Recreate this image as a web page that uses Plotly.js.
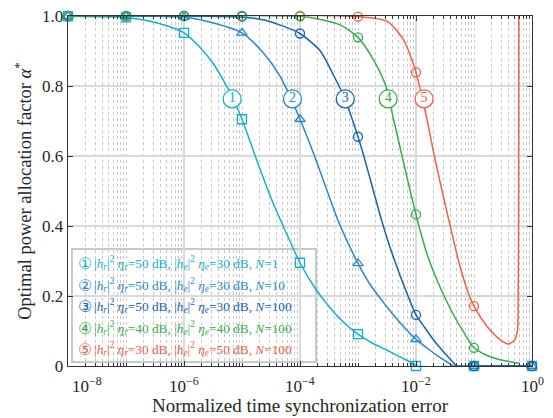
<!DOCTYPE html>
<html>
<head>
<meta charset="utf-8">
<script src="https://cdn.plot.ly/plotly-3.0.1.min.js"></script>
<style>html,body{margin:0;padding:0;background:#fff;}#chart{width:553px;height:418px;}</style>
</head>
<body>
<div id="chart"></div>
<script>
// ---- data (x given as log10 exponents) ----
const markerExp = [-8, -7, -6, -5, -4, -3, -2, -1, 0];

const s1Exp = [-8, -7.5, -7, -6.6, -6.3, -6, -5.75, -5.5, -5.25, -5.15, -5, -4.75, -4.5, -4.25, -4, -3.75, -3.5, -3.25, -3, -2.75, -2.5, -2.25, -2.04, -2, -1, 0];
const s1Val = [0.999, 0.998, 0.996, 0.986, 0.972, 0.952, 0.915, 0.865, 0.795, 0.762, 0.705, 0.59, 0.48, 0.385, 0.295, 0.225, 0.17, 0.125, 0.091, 0.065, 0.045, 0.024, 0.006, 0, 0, 0];
const s1Mk = [0.999, 0.996, 0.952, 0.705, 0.295, 0.091, 0, 0, 0];

const s2Exp = [-8, -6.5, -6, -5.49, -5, -4.63, -4.34, -4.16, -4, -3.75, -3.51, -3.33, -3, -2.8, -2.6, -2.4, -2.2, -2, -1.8, -1.6, -1.45, -1.35, -1, 0];
const s2Val = [1, 0.999, 0.997, 0.98, 0.952, 0.894, 0.827, 0.766, 0.705, 0.6, 0.49, 0.41, 0.293, 0.235, 0.19, 0.148, 0.11, 0.076, 0.05, 0.026, 0.01, 0, 0, 0];
const s2Mk = [1, 0.999, 0.997, 0.952, 0.705, 0.293, 0.076, 0, 0];

const s3Exp = [-8, -5.5, -5, -4.6, -4.34, -4, -3.65, -3.42, -3.23, -3, -2.9, -2.75, -2.6, -2.45, -2.3, -2.15, -2, -1.85, -1.7, -1.55, -1.4, -1.29, -1, 0];
const s3Val = [1, 0.999, 0.997, 0.988, 0.974, 0.95, 0.9, 0.83, 0.765, 0.655, 0.6, 0.51, 0.42, 0.34, 0.27, 0.205, 0.146, 0.11, 0.075, 0.045, 0.018, 0, 0, 0];
const s3Mk = [1, 1, 1, 0.998, 0.95, 0.655, 0.146, 0, 0];

const s4Exp = [-8, -4, -3.65, -3.3, -3, -2.73, -2.52, -2.38, -2.24, -2.1, -2, -1.9, -1.8, -1.65, -1.5, -1.35, -1.2, -1, -0.8, -0.6, -0.4, -0.22];
const s4Val = [1, 0.999, 0.99, 0.974, 0.939, 0.874, 0.8, 0.7, 0.6, 0.5, 0.433, 0.37, 0.315, 0.25, 0.195, 0.145, 0.103, 0.052, 0.032, 0.02, 0.013, 0.008];
const s4Mk = [1, 1, 1, 1, 0.999, 0.939, 0.433, 0.052];

const s5Exp = [-8, -3, -2.49, -2.21, -2.07, -2, -1.87, -1.78, -1.69, -1.55, -1.41, -1.25, -1.08, -1, -0.77, -0.54, -0.4, -0.3, -0.25, -0.238, -0.232, -0.229, -0.228];
const s5Val = [1, 0.998, 0.984, 0.931, 0.874, 0.839, 0.75, 0.68, 0.605, 0.5, 0.4, 0.29, 0.2, 0.171, 0.112, 0.074, 0.063, 0.074, 0.103, 0.2, 0.4, 0.7, 1.0];
const s5Mk = [1, 1, 1, 1, 1, 0.998, 0.839, 0.171];

const labelText = ['1', '2', '3', '4', '5'];
const labelExp = [-5.17, -4.13, -3.22, -2.48, -1.86];
const labelVal = [0.763, 0.763, 0.763, 0.763, 0.763];

const legendNums = ['\u2460', '\u2461', '\u2462', '\u2463', '\u2464'];
const legendTexts = [
  '|<i>h</i><sub><i>r</i></sub>|<sup>2</sup> <i>η</i><sub><i>r</i></sub>=50 dB, |<i>h</i><sub><i>e</i></sub>|<sup>2</sup> <i>η</i><sub><i>e</i></sub>=30 dB, <i>N</i>=1',
  '|<i>h</i><sub><i>r</i></sub>|<sup>2</sup> <i>η</i><sub><i>r</i></sub>=50 dB, |<i>h</i><sub><i>e</i></sub>|<sup>2</sup> <i>η</i><sub><i>e</i></sub>=30 dB, <i>N</i>=10',
  '|<i>h</i><sub><i>r</i></sub>|<sup>2</sup> <i>η</i><sub><i>r</i></sub>=50 dB, |<i>h</i><sub><i>e</i></sub>|<sup>2</sup> <i>η</i><sub><i>e</i></sub>=30 dB, <i>N</i>=100',
  '|<i>h</i><sub><i>r</i></sub>|<sup>2</sup> <i>η</i><sub><i>r</i></sub>=40 dB, |<i>h</i><sub><i>e</i></sub>|<sup>2</sup> <i>η</i><sub><i>e</i></sub>=40 dB, <i>N</i>=100',
  '|<i>h</i><sub><i>r</i></sub>|<sup>2</sup> <i>η</i><sub><i>r</i></sub>=30 dB, |<i>h</i><sub><i>e</i></sub>|<sup>2</sup> <i>η</i><sub><i>e</i></sub>=50 dB, <i>N</i>=100'
];

const xTickExp = [-8, -6, -4, -2, 0];
const xTickText = ['10<sup>\u22128</sup>', '10<sup>\u22126</sup>', '10<sup>\u22124</sup>', '10<sup>\u22122</sup>', '10<sup>0</sup>'];
const yTickVals = [0, 0.2, 0.4, 0.6, 0.8, 1.0];
const yTickText = ['0', '0.2', '0.4', '0.6', '0.8', '1.0'];

// ---- styling ----
const colors = ['#17b0c6', '#2b87cc', '#1862b0', '#3aab50', '#f2604a'];
const symbols = ['square-open', 'triangle-up-open', 'circle-open', 'circle-open', 'circle-open'];
const FONT = 'Liberation Serif, Times New Roman, serif';
const p10 = a => a.map(e => Math.pow(10, e));

const series = [
  {ex: s1Exp, v: s1Val, mk: s1Mk},
  {ex: s2Exp, v: s2Val, mk: s2Mk},
  {ex: s3Exp, v: s3Val, mk: s3Mk},
  {ex: s4Exp, v: s4Val, mk: s4Mk},
  {ex: s5Exp, v: s5Val, mk: s5Mk}
];
const drawOrder = [4, 0, 1, 2, 3];

const traces = [];
drawOrder.forEach(i => {
  const s = series[i];
  traces.push({
    x: p10(s.ex), y: s.v, type: 'scatter', mode: 'lines',
    line: {color: colors[i], width: 1.5, shape: 'spline', smoothing: 0.7},
    showlegend: false, hoverinfo: 'skip', cliponaxis: false
  });
  traces.push({
    x: p10(markerExp.slice(0, s.mk.length)), y: s.mk, type: 'scatter', mode: 'markers',
    marker: {symbol: symbols[i], size: 9, color: colors[i], line: {width: 1.3, color: colors[i]}},
    showlegend: false, hoverinfo: 'skip', cliponaxis: false
  });
});
labelText.forEach((t, i) => {
  traces.push({
    x: [Math.pow(10, labelExp[i])], y: [labelVal[i]], type: 'scatter', mode: 'markers+text',
    text: [t], textposition: 'middle center',
    textfont: {family: FONT, size: 14, color: colors[i]},
    marker: {symbol: 'circle', size: 18, color: '#ffffff', line: {width: 1.3, color: colors[i]}},
    showlegend: false, hoverinfo: 'skip', cliponaxis: false
  });
});

const L = 68, R = 532, T = 16, B = 366, W = R - L, H = B - T;
const px = x => (x - L) / W;
const py = y => (B - y) / H;

const annotations = [];
// x tick labels (first one nudged right of the y label "0", as in the reference)
xTickExp.forEach((e, i) => {
  annotations.push({
    xref: 'x', yref: 'paper', x: e, y: py(372),
    xanchor: i === 0 ? 'left' : 'center', xshift: i === 0 ? 2 : 0, yanchor: 'top',
    text: xTickText[i], showarrow: false,
    font: {family: FONT, size: 17, color: '#262626'}
  });
});

const legendY = [263, 284.5, 306, 327.5, 349];
legendTexts.forEach((t, i) => {
  annotations.push({
    xref: 'paper', yref: 'paper', x: px(76), y: py(legendY[i] + 0.5),
    xanchor: 'left', yanchor: 'middle', text: legendNums[i], showarrow: false,
    font: {family: 'DejaVu Sans, Noto Sans CJK SC, sans-serif', size: 16, color: colors[i]}
  });
  annotations.push({
    xref: 'paper', yref: 'paper', x: px(92), y: py(legendY[i]),
    xanchor: 'left', yanchor: 'middle', text: t, showarrow: false,
    font: {family: FONT, size: 13.3, color: colors[i]}
  });
});

const layout = {
  width: 553, height: 418,
  margin: {l: L, r: 553 - R, t: T, b: 418 - B},
  paper_bgcolor: '#ffffff', plot_bgcolor: '#ffffff',
  font: {family: FONT, size: 17, color: '#262626'},
  showlegend: false,
  xaxis: {
    type: 'log', range: [-8, 0],
    tickvals: p10(xTickExp), ticktext: xTickText, showticklabels: false,
    showline: true, linecolor: '#333333', linewidth: 1.3, mirror: 'allticks',
    ticks: 'inside', ticklen: 5, tickcolor: '#333333', tickwidth: 1,
    showgrid: true, gridcolor: '#dadada', gridwidth: 2.5,
    zeroline: false,
    minor: {dtick: 'D1', showgrid: true, gridcolor: '#c9c9c9', gridwidth: 1, griddash: 'dot', ticks: 'inside', ticklen: 3, tickcolor: '#333333'},
    tickfont: {family: FONT, size: 17, color: '#262626'}
  },
  yaxis: {
    range: [0, 1],
    tickvals: yTickVals, ticktext: yTickText,
    showline: true, linecolor: '#333333', linewidth: 1.3, mirror: 'allticks',
    ticks: 'inside', ticklen: 5, tickcolor: '#333333',
    showgrid: true, gridcolor: '#dadada', gridwidth: 2.5,
    zeroline: false,
    tickfont: {family: FONT, size: 17, color: '#262626'},
    title: {text: 'Optimal power allocation factor <i>α</i><sup>*</sup>', font: {family: FONT, size: 18.5, color: '#262626'}, standoff: 5}
  },
  shapes: [{
    type: 'rect', xref: 'paper', yref: 'paper', layer: 'between',
    x0: px(72), x1: px(316), y0: py(362), y1: py(249),
    fillcolor: '#ffffff', line: {color: '#c8c8c8', width: 2}
  }],
  annotations: annotations.concat([{
    xref: 'paper', yref: 'paper', x: 0.5, y: py(405), xanchor: 'center', yanchor: 'middle',
    text: 'Normalized time synchronization error', showarrow: false,
    font: {family: FONT, size: 19, color: '#262626'}
  }])
};

Plotly.newPlot('chart', traces, layout, {displayModeBar: false, staticPlot: true});
</script>
</body>
</html>
